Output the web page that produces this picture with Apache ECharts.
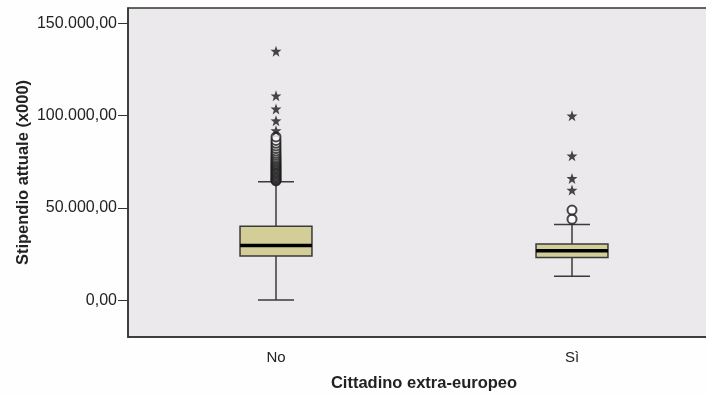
<!DOCTYPE html>
<html>
<head>
<meta charset="utf-8">
<script src="https://cdn.jsdelivr.net/npm/echarts@6/dist/echarts.min.js"></script>
<style>
html,body{margin:0;padding:0;background:#FDFEFD;}
#c{width:706px;height:394px;}
</style>
</head>
<body>
<div id="c"></div>
<script>
const categories = ['No', 'Sì'];
const yTicks = [0, 50000, 100000, 150000];
const boxMin = [0, 13000];
const boxQ1 = [23900, 23150];
const boxMedian = [29550, 26750];
const boxQ3 = [40100, 30400];
const boxMax = [64150, 41050];
const outliersNo = [64700, 65200, 65800, 66500, 67200, 67900, 68600, 69300, 70000, 70700, 71400, 72100, 72800, 73500, 74200, 75000, 75800, 76600, 77500, 78500, 79600, 80800, 82200, 83600, 85000, 86600, 88500];
const extremesNo = [135000, 110800, 103700, 97300, 91900];
const outliersSi = [43900, 48800];
const extremesSi = [99950, 78250, 66000, 59650];

const font = 'Liberation Sans';
const star = 'path://M0,-10 L2.35,-3.24 L9.51,-3.09 L3.8,1.24 L5.88,8.09 L0,4 L-5.88,8.09 L-3.8,1.24 L-9.51,-3.09 L-2.35,-3.24 Z';

const boxData = categories.map((c, i) => [i, boxMin[i], boxQ1[i], boxMedian[i], boxQ3[i], boxMax[i]]);
const circleData = [];
outliersNo.forEach(v => circleData.push([0, v]));
outliersSi.forEach(v => circleData.push([1, v]));
const starData = [];
extremesNo.forEach(v => starData.push([0, v]));
extremesSi.forEach(v => starData.push([1, v]));

const fmt = v => {
  const s = Math.round(v).toString().replace(/\B(?=(\d{3})+(?!\d))/g, '.');
  return s + ',00';
};

const chart = echarts.init(document.getElementById('c'), null, {renderer: 'canvas'});
chart.setOption({
  backgroundColor: '#FDFEFD',
  animation: false,
  grid: {left: 128, top: 8, right: -14, bottom: 57, outerBoundsMode: 'none', containLabel: false, show: true, backgroundColor: '#EBE9EC', borderColor: '#333', borderWidth: 1.5},
  xAxis: {
    type: 'category', data: categories,
    axisLine: {onZero: false, lineStyle: {color: '#333', width: 1.5}},
    axisTick: {alignWithLabel: true, length: 10, lineStyle: {color: '#333'}},
    axisLabel: {fontFamily: font, fontSize: 15, color: '#222', margin: 13},
    name: 'Cittadino extra-europeo', nameLocation: 'middle', nameGap: 38, nameMoveOverlap: false,
    nameTextStyle: {fontFamily: font, fontSize: 16.5, fontWeight: 'bold', color: '#222'}
  },
  yAxis: {
    type: 'value', min: -20000, max: 158400,
    splitLine: {show: false},
    axisLine: {show: true, onZero: false, lineStyle: {color: '#333', width: 1.5}},
    axisTick: {show: true, length: 10, customValues: yTicks, lineStyle: {color: '#333'}},
    axisLabel: {customValues: yTicks, formatter: fmt, fontFamily: font, fontSize: 16, color: '#222', margin: 11},
    name: 'Stipendio attuale (x000)', nameLocation: 'middle', nameGap: 96, nameMoveOverlap: false,
    nameTextStyle: {fontFamily: font, fontSize: 16.5, fontWeight: 'bold', color: '#222'}
  },
  series: [
    {
      type: 'custom',
      data: boxData,
      encode: {x: 0, y: [1, 2, 3, 4, 5]},
      renderItem: function (params, api) {
        const x = api.value(0);
        const band = api.size([1, 0])[0];
        const bw = band * 0.243;
        const cw = bw / 2;
        const pMin = api.coord([x, api.value(1)]);
        const pQ1 = api.coord([x, api.value(2)]);
        const pMed = api.coord([x, api.value(3)]);
        const pQ3 = api.coord([x, api.value(4)]);
        const pMax = api.coord([x, api.value(5)]);
        const cx = pMin[0];
        const ls = {stroke: '#3a3a3a', lineWidth: 1.5};
        return {
          type: 'group',
          children: [
            {type: 'line', shape: {x1: cx, y1: pMin[1], x2: cx, y2: pQ1[1]}, style: ls},
            {type: 'line', shape: {x1: cx, y1: pQ3[1], x2: cx, y2: pMax[1]}, style: ls},
            {type: 'line', shape: {x1: cx - cw / 2, y1: pMin[1], x2: cx + cw / 2, y2: pMin[1]}, style: ls},
            {type: 'line', shape: {x1: cx - cw / 2, y1: pMax[1], x2: cx + cw / 2, y2: pMax[1]}, style: ls},
            {type: 'rect', shape: {x: cx - bw / 2, y: pQ3[1], width: bw, height: pQ1[1] - pQ3[1]}, style: {fill: '#D3CE98', stroke: '#3a3a3a', lineWidth: 1.5}},
            {type: 'line', shape: {x1: cx - bw / 2, y1: pMed[1], x2: cx + bw / 2, y2: pMed[1]}, style: {stroke: '#000', lineWidth: 3.5}}
          ]
        };
      },
      z: 2
    },
    {
      type: 'scatter', data: circleData, symbol: 'emptyCircle', symbolSize: 9,
      itemStyle: {color: '#1a1a1a', borderColor: '#1a1a1a', borderWidth: 2}, z: 3
    },
    {
      type: 'scatter', data: starData, symbol: star, symbolSize: 11,
      itemStyle: {color: '#1a1a1a'}, z: 3
    }
  ]
});
</script>
</body>
</html>
